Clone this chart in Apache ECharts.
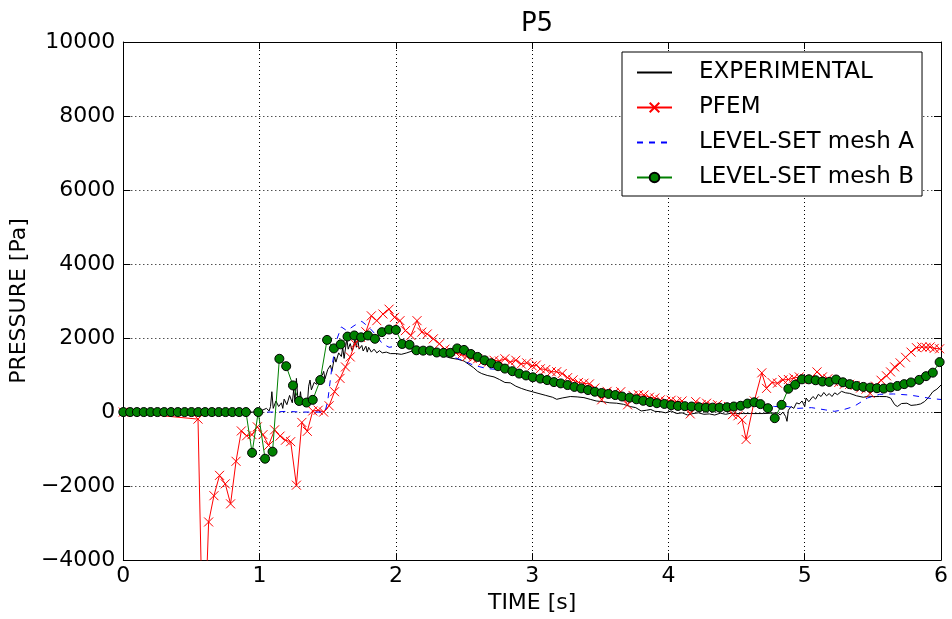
<!DOCTYPE html>
<html>
<head>
<meta charset="utf-8">
<script src="https://cdn.jsdelivr.net/npm/echarts@6/dist/echarts.min.js"></script>
<style>
html,body{margin:0;padding:0;background:#fff;overflow:hidden;}
#c{width:952px;height:619px;}
</style>
</head>
<body>
<div id="c"></div>
<script>
// ---- data ----
const titleText = 'P5';
const xName = 'TIME [s]';
const yName = 'PRESSURE [Pa]';
const seriesNames = ['EXPERIMENTAL', 'PFEM', 'LEVEL-SET mesh A', 'LEVEL-SET mesh B'];

const expT = [0,0.9,1.0,1.02,1.05,1.07,1.08,1.09,1.1,1.12,1.14,1.16,1.17,1.18,1.2,1.22,1.24,1.25,1.26,1.27,1.28,1.29,1.3,1.31,1.32,1.33,1.34,1.35,1.36,1.37,1.38,1.4,1.42,1.44,1.46,1.47,1.48,1.5,1.52,1.53,1.55,1.56,1.58,1.6,1.61,1.62,1.64,1.65,1.665,1.68,1.7,1.71,1.72,1.73,1.75,1.76,1.78,1.79,1.8,1.82,1.84,1.86,1.88,1.9,1.93,1.96,2.0,2.04,2.08,2.12,2.16,2.2,2.25,2.3,2.35,2.4,2.45,2.5,2.53,2.57,2.6,2.63,2.67,2.72,2.76,2.8,2.84,2.88,2.92,2.96,3.0,3.05,3.1,3.15,3.18,3.22,3.28,3.33,3.38,3.43,3.47,3.52,3.57,3.62,3.67,3.72,3.76,3.8,3.84,3.87,3.9,3.94,3.98,4.02,4.06,4.1,4.14,4.18,4.22,4.26,4.3,4.34,4.38,4.42,4.46,4.5,4.55,4.6,4.65,4.7,4.75,4.8,4.82,4.84,4.86,4.87,4.88,4.9,4.92,4.94,4.96,4.98,5.0,5.01,5.03,5.06,5.08,5.1,5.12,5.14,5.16,5.18,5.2,5.22,5.24,5.27,5.3,5.33,5.38,5.43,5.47,5.5,5.55,5.6,5.63,5.66,5.68,5.71,5.75,5.78,5.82,5.85,5.88,5.91,5.94,5.97,6.0];
const expP = [0,0,0,50,100,30,150,550,100,300,150,250,100,350,200,450,250,600,300,910,400,250,550,200,300,150,350,200,700,865,600,800,750,950,1000,1100,900,1150,1265,1100,1490,1350,1600,1500,1750,1450,1980,1700,1850,1650,1950,1750,2000,1700,1800,1650,1780,1620,1750,1620,1700,1600,1660,1600,1620,1580,1580,1560,1600,1650,1620,1600,1580,1560,1520,1460,1430,1380,1300,1200,1100,1040,990,950,880,800,790,700,640,590,550,500,450,400,345,380,420,410,390,340,300,280,250,240,210,150,120,30,50,70,20,10,-20,30,-40,-20,-80,-40,-20,-60,-50,-80,-30,-60,-30,-40,-40,-40,-40,-40,-30,-20,-80,0,-120,-250,50,150,100,250,220,300,150,380,280,420,350,480,420,530,440,500,420,520,470,560,520,505,440,400,430,418,420,418,380,200,150,230,240,180,195,220,285,400,550,620,730];

const pfemT = [0,0.548,0.587,0.626,0.665,0.706,0.748,0.787,0.827,0.866,0.905,0.944,0.983,1.025,1.066,1.11,1.15,1.19,1.228,1.27,1.31,1.35,1.39,1.43,1.47,1.51,1.55,1.59,1.63,1.665,1.70,1.74,1.78,1.82,1.86,1.905,1.95,1.99,2.03,2.07,2.11,2.155,2.19,2.23,2.275,2.32,2.36,2.40,2.44,2.48,2.52,2.56,2.6,2.64,2.68,2.72,2.76,2.8,2.84,2.88,2.92,2.96,3.0,3.03,3.06,3.1,3.14,3.18,3.22,3.26,3.3,3.34,3.38,3.42,3.46,3.51,3.55,3.6,3.65,3.7,3.74,3.78,3.82,3.86,3.9,3.94,3.98,4.02,4.06,4.1,4.16,4.2,4.24,4.28,4.32,4.36,4.4,4.44,4.47,4.51,4.54,4.57,4.63,4.685,4.72,4.76,4.8,4.84,4.88,4.92,4.96,5.0,5.04,5.09,5.13,5.17,5.21,5.25,5.29,5.33,5.37,5.41,5.45,5.48,5.52,5.56,5.6,5.63,5.66,5.7,5.74,5.78,5.82,5.86,5.89,5.92,5.95,5.99];
const pfemP = [0,-190,-7000,-2970,-2260,-1710,-1940,-2480,-1330,-510,-640,-610,-400,-610,-900,-480,-650,-760,-800,-1975,-280,-520,30,50,0,170,550,910,1220,1490,1845,2020,2170,2600,2470,2650,2780,2560,2470,2200,2070,2470,2160,2110,1980,1845,1700,1650,1600,1550,1500,1450,1440,1380,1350,1400,1380,1440,1350,1400,1300,1330,1250,1270,1170,1150,1090,1090,1040,930,870,800,780,760,650,330,560,520,550,195,450,470,460,400,380,330,290,320,280,300,-50,280,200,240,170,200,130,150,-70,-100,-210,-740,300,1060,640,800,780,870,880,920,950,900,880,1085,950,900,830,800,750,750,720,650,620,505,700,860,980,1085,1220,1330,1480,1620,1740,1760,1750,1760,1720,1710];

const meshAT = [0,1.0,1.1,1.2,1.3,1.4,1.48,1.5,1.53,1.56,1.6,1.64,1.7,1.75,1.8,1.85,1.9,1.95,2.0,2.05,2.1,2.2,2.3,2.4,2.45,2.5,2.57,2.67,2.75,2.85,2.95,3.05,3.15,3.25,3.35,3.45,3.55,3.65,3.75,3.85,3.95,4.05,4.15,4.25,4.35,4.45,4.55,4.62,4.7,4.78,4.87,4.95,5.05,5.15,5.22,5.28,5.36,5.46,5.55,5.65,5.77,5.84,5.92,6.0];
const meshAP = [0,0,0,20,0,0,0,300,1200,1900,2300,2200,2350,2450,2300,2100,1850,1750,1780,1850,1800,1700,1620,1500,1450,1380,1265,1175,1150,1080,1000,900,810,720,630,540,470,410,330,260,210,170,140,120,120,140,180,220,200,150,150,100,120,60,20,60,150,380,480,490,460,420,370,340];

const meshBT = [0,0.05,0.1,0.15,0.2,0.25,0.3,0.35,0.4,0.45,0.5,0.55,0.6,0.65,0.7,0.75,0.8,0.85,0.9,0.945,0.99,1.04,1.095,1.145,1.195,1.245,1.29,1.345,1.39,1.445,1.495,1.545,1.595,1.645,1.695,1.745,1.795,1.846,1.897,1.95,2.0,2.046,2.1,2.15,2.2,2.25,2.3,2.35,2.4,2.45,2.5,2.55,2.6,2.65,2.7,2.75,2.8,2.855,2.905,2.955,3.005,3.06,3.11,3.16,3.21,3.26,3.31,3.36,3.41,3.46,3.51,3.56,3.61,3.66,3.715,3.765,3.815,3.865,3.915,3.97,4.02,4.07,4.12,4.17,4.225,4.275,4.325,4.375,4.43,4.48,4.53,4.58,4.63,4.675,4.73,4.78,4.83,4.88,4.93,4.98,5.03,5.08,5.13,5.18,5.23,5.28,5.33,5.38,5.43,5.48,5.53,5.58,5.63,5.68,5.73,5.78,5.84,5.89,5.94,5.99];
const meshBP = [0,0,0,0,0,0,0,0,0,0,0,0,0,0,0,0,0,0,0,-1100,0,-1260,-1070,1440,1240,720,300,257,330,865,1950,1720,1830,2040,2070,2020,2070,1980,2160,2230,2220,1840,1820,1670,1660,1660,1610,1600,1600,1720,1680,1570,1490,1400,1320,1240,1175,1105,1040,990,940,905,865,810,775,730,680,640,595,550,515,490,460,420,390,345,305,270,240,220,185,165,160,150,130,120,120,120,130,150,170,230,265,215,105,-165,195,630,740,885,885,860,825,815,880,805,755,705,680,660,645,635,665,705,755,800,870,970,1065,1350];

const xMin = 0, xMax = 6, xStep = 1;
const yMin = -4000, yMax = 10000, yStep = 2000;

// ---- chart ----
const FONT = 'DejaVu Sans';
const zip = (t, p) => t.map((v, i) => [v, p[i]]);
const minus = v => String(v).replace('-', '\u2212');
const xPath = 'path://M0,0L10,10M10,0L0,10';

const chart = echarts.init(document.getElementById('c'), null, {renderer: 'canvas'});
const baseAxis = {
  axisLine: {show: true, onZero: false, lineStyle: {color: '#000', width: 1}},
  axisTick: {show: true, inside: true, length: 7, lineStyle: {color: '#000'}},
};
chart.setOption({
  animation: false,
  backgroundColor: '#fff',
  textStyle: {fontFamily: FONT, color: '#000'},
  title: {
    text: titleText, left: 532, top: 6, textAlign: 'center',
    textStyle: {fontFamily: FONT, fontSize: 26, fontWeight: 'normal', color: '#000'}
  },
  grid: {left: 123, right: 11, top: 42, bottom: 54, containLabel: false},
  legend: {
    orient: 'vertical', left: 622, top: 52,
    padding: [8, 8, 6, 14], itemGap: 10, itemWidth: 35, itemHeight: 12,
    backgroundColor: '#fff', borderColor: '#000', borderWidth: 1, borderRadius: 0,
    textStyle: {fontFamily: FONT, fontSize: 23, color: '#000', lineHeight: 25, padding: [0, 0, 0, 22]},
    data: [
      {name: seriesNames[0], itemStyle: {opacity: 0}},
      {name: seriesNames[1]},
      {name: seriesNames[2], itemStyle: {opacity: 0}},
      {name: seriesNames[3]}
    ]
  },
  xAxis: [
    Object.assign({}, baseAxis, {
      type: 'value', min: xMin, max: xMax, interval: xStep, position: 'bottom',
      name: xName, nameLocation: 'middle', nameGap: 30,
      nameTextStyle: {fontFamily: FONT, fontSize: 22, color: '#000'},
      axisLabel: {fontFamily: FONT, fontSize: 22, color: '#000', margin: 5},
      splitLine: {show: true, lineStyle: {color: '#000', width: 1, type: [1, 3]}}
    }),
    Object.assign({}, baseAxis, {
      type: 'value', min: xMin, max: xMax, interval: xStep, position: 'top',
      axisLabel: {show: false}, splitLine: {show: false}
    })
  ],
  yAxis: [
    Object.assign({}, baseAxis, {
      type: 'value', min: yMin, max: yMax, interval: yStep, position: 'left',
      name: yName, nameLocation: 'middle', nameGap: 90, nameRotate: 90,
      nameTextStyle: {fontFamily: FONT, fontSize: 22, color: '#000'},
      axisLabel: {fontFamily: FONT, fontSize: 22, color: '#000', margin: 8, formatter: minus},
      splitLine: {show: true, lineStyle: {color: '#000', width: 1, type: [1, 3]}}
    }),
    Object.assign({}, baseAxis, {
      type: 'value', min: yMin, max: yMax, interval: yStep, position: 'right',
      axisLabel: {show: false}, splitLine: {show: false}
    })
  ],
  series: [
    {
      name: seriesNames[0], type: 'line', data: zip(expT, expP),
      showSymbol: false, symbol: 'none',
      lineStyle: {color: '#000', width: 1}, itemStyle: {color: '#000'}, clip: true, z: 2
    },
    {
      name: seriesNames[1], type: 'line', data: zip(pfemT, pfemP),
      symbol: xPath, symbolSize: 9, showAllSymbol: true,
      lineStyle: {color: '#ff0000', width: 1},
      itemStyle: {color: 'rgba(0,0,0,0)', borderColor: '#ff0000', borderWidth: 1},
      clip: true, z: 3
    },
    {
      name: seriesNames[2], type: 'line', data: zip(meshAT, meshAP),
      symbol: 'none', showSymbol: false,
      lineStyle: {color: '#0000ff', width: 1, type: [6, 6]}, itemStyle: {color: '#0000ff'},
      clip: true, z: 4
    },
    {
      name: seriesNames[3], type: 'line', data: zip(meshBT, meshBP),
      symbol: 'circle', symbolSize: 9, showAllSymbol: true,
      lineStyle: {color: '#008000', width: 1},
      itemStyle: {color: '#008000', borderColor: '#000', borderWidth: 1},
      clip: true, z: 5
    }
  ]
});
</script>
</body>
</html>
